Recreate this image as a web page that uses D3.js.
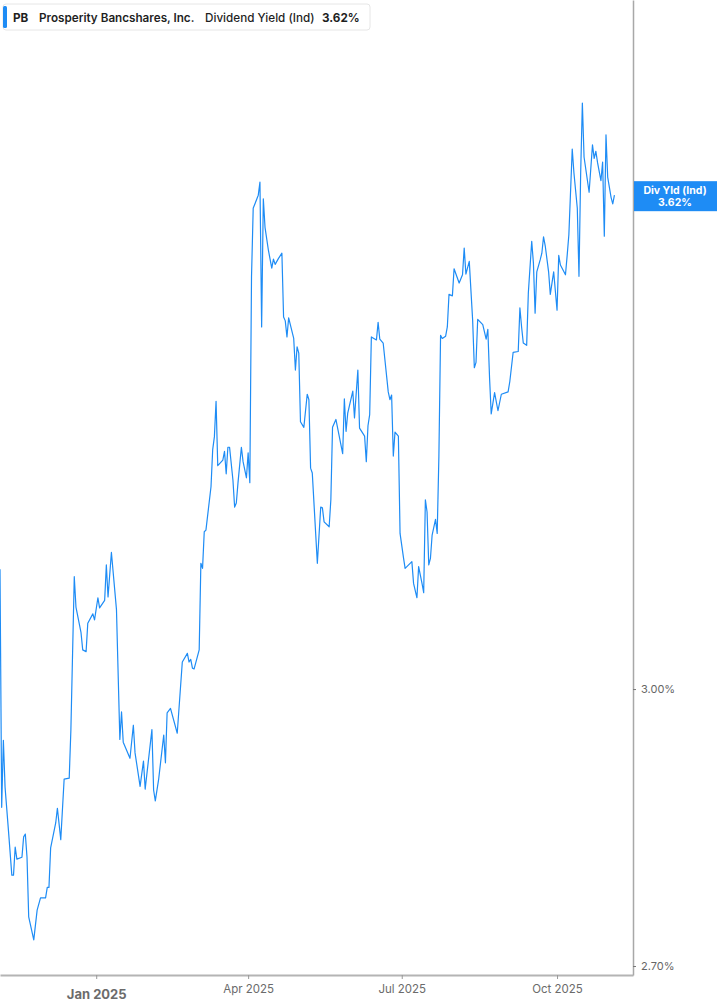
<!DOCTYPE html>
<html>
<head>
<meta charset="utf-8">
<script src="https://cdn.jsdelivr.net/npm/d3@7"></script>
<style>
    html, body { margin: 0; padding: 0; background: #fff; }
    svg { display: block; }
</style>
</head>
<body>
<div id="chart"></div>
<script>
// PB dividend yield (indicated), %
const dates = [
    "2024-11-05","2024-11-06","2024-11-07","2024-11-08","2024-11-10","2024-11-11","2024-11-12","2024-11-13","2024-11-14","2024-11-15",
    "2024-11-18","2024-11-19","2024-11-20","2024-11-21","2024-11-22","2024-11-25","2024-11-27","2024-11-29","2024-12-02","2024-12-03",
    "2024-12-04","2024-12-05","2024-12-08","2024-12-09","2024-12-11","2024-12-13","2024-12-16","2024-12-17","2024-12-19","2024-12-20",
    "2024-12-23","2024-12-24","2024-12-26","2024-12-27","2024-12-30","2024-12-31","2025-01-02","2025-01-03","2025-01-06","2025-01-07",
    "2025-01-08","2025-01-10","2025-01-13","2025-01-15","2025-01-16","2025-01-17","2025-01-21","2025-01-23","2025-01-24","2025-01-27",
    "2025-01-29","2025-01-30","2025-02-03","2025-02-04","2025-02-05","2025-02-07","2025-02-10","2025-02-11","2025-02-12","2025-02-14",
    "2025-02-18","2025-02-21","2025-02-24","2025-02-25","2025-02-26","2025-02-27","2025-02-28","2025-03-03","2025-03-04","2025-03-05",
    "2025-03-06","2025-03-07","2025-03-10","2025-03-11","2025-03-12","2025-03-13","2025-03-14","2025-03-17","2025-03-18","2025-03-19",
    "2025-03-20","2025-03-21","2025-03-23","2025-03-24","2025-03-25","2025-03-26","2025-03-28","2025-03-29","2025-03-31","2025-04-01",
    "2025-04-02","2025-04-03","2025-04-04","2025-04-07","2025-04-08","2025-04-09","2025-04-10","2025-04-11","2025-04-13","2025-04-15",
    "2025-04-16","2025-04-17","2025-04-19","2025-04-21","2025-04-22","2025-04-23","2025-04-24","2025-04-25","2025-04-28","2025-04-29",
    "2025-04-30","2025-05-01","2025-05-02","2025-05-04","2025-05-06","2025-05-07","2025-05-08","2025-05-09","2025-05-12","2025-05-14",
    "2025-05-15","2025-05-16","2025-05-19","2025-05-20","2025-05-21","2025-05-23","2025-05-27","2025-05-28","2025-05-29","2025-05-30",
    "2025-06-02","2025-06-03","2025-06-05","2025-06-06","2025-06-09","2025-06-10","2025-06-11","2025-06-12","2025-06-13","2025-06-16",
    "2025-06-17","2025-06-18","2025-06-20","2025-06-23","2025-06-24","2025-06-25","2025-06-26","2025-06-27","2025-06-29","2025-06-30",
    "2025-07-02","2025-07-03","2025-07-07","2025-07-08","2025-07-10","2025-07-11","2025-07-13","2025-07-14","2025-07-15","2025-07-16",
    "2025-07-17","2025-07-18","2025-07-19","2025-07-21","2025-07-22","2025-07-23","2025-07-24","2025-07-25","2025-07-27","2025-07-28",
    "2025-07-29","2025-07-31","2025-08-01","2025-08-04","2025-08-06","2025-08-07","2025-08-08","2025-08-10","2025-08-12","2025-08-13",
    "2025-08-14","2025-08-15","2025-08-18","2025-08-20","2025-08-21","2025-08-22","2025-08-23","2025-08-25","2025-08-27","2025-08-29",
    "2025-09-02","2025-09-03","2025-09-05","2025-09-08","2025-09-09","2025-09-10","2025-09-11","2025-09-13","2025-09-14","2025-09-16",
    "2025-09-17","2025-09-18","2025-09-19","2025-09-21","2025-09-22","2025-09-23","2025-09-24","2025-09-26","2025-09-27","2025-09-28",
    "2025-09-29","2025-10-01","2025-10-02","2025-10-03","2025-10-06","2025-10-07","2025-10-08","2025-10-10","2025-10-11","2025-10-13",
    "2025-10-14","2025-10-15","2025-10-16","2025-10-17","2025-10-20","2025-10-22","2025-10-23","2025-10-24","2025-10-25","2025-10-27",
    "2025-10-28","2025-10-29","2025-10-30","2025-10-31","2025-11-02","2025-11-03","2025-11-04"
];

const yields = [
    3.140,2.868,2.942,2.890,2.843,2.819,2.795,2.795,2.825,2.812,
    2.814,2.836,2.839,2.814,2.751,2.727,2.758,2.771,2.771,2.782,
    2.782,2.824,2.851,2.867,2.833,2.899,2.900,2.954,3.131,3.095,
    3.065,3.045,3.043,3.076,3.087,3.080,3.106,3.094,3.103,3.145,
    3.107,3.160,3.092,2.943,2.974,2.940,2.922,2.959,2.928,2.891,
    2.919,2.888,2.954,2.887,2.875,2.899,2.948,2.917,2.973,2.978,
    2.950,3.031,3.041,3.031,3.034,3.024,3.023,3.045,3.147,3.141,
    3.185,3.187,3.240,3.286,3.302,3.347,3.266,3.273,3.284,3.256,
    3.289,3.289,3.248,3.215,3.220,3.245,3.289,3.271,3.251,3.282,
    3.245,3.509,3.602,3.620,3.638,3.443,3.615,3.576,3.545,3.521,
    3.533,3.526,3.534,3.541,3.456,3.451,3.430,3.455,3.428,3.387,
    3.417,3.409,3.321,3.314,3.356,3.349,3.263,3.257,3.147,3.215,
    3.214,3.197,3.191,3.224,3.314,3.324,3.281,3.350,3.309,3.332,
    3.360,3.326,3.387,3.313,3.303,3.271,3.316,3.330,3.430,3.426,
    3.449,3.427,3.422,3.359,3.349,3.355,3.278,3.308,3.303,3.183,
    3.154,3.141,3.149,3.123,3.106,3.143,3.123,3.112,3.224,3.209,
    3.145,3.153,3.181,3.200,3.183,3.277,3.432,3.428,3.431,3.443,
    3.486,3.484,3.520,3.501,3.512,3.548,3.513,3.530,3.452,3.390,
    3.397,3.453,3.446,3.427,3.440,3.378,3.331,3.358,3.335,3.356,
    3.359,3.372,3.410,3.411,3.468,3.443,3.422,3.419,3.488,3.557,
    3.528,3.461,3.516,3.532,3.541,3.563,3.551,3.516,3.486,3.501,
    3.516,3.465,3.538,3.525,3.512,3.538,3.566,3.684,3.651,3.602,
    3.510,3.651,3.749,3.673,3.624,3.690,3.671,3.681,3.665,3.640,
    3.666,3.564,3.704,3.645,3.617,3.608,3.620
];

const xTickDates = ["2025-01-01", "2025-04-01", "2025-07-01", "2025-10-01"];
const yTickValues = [2.7, 3.0];
const xDomain = ["2024-11-05", "2025-11-15"];
const yDomain = [2.6908, 3.899];

const ticker = "PB";
const company = "Prosperity Bancshares, Inc.";
const metric = "Dividend Yield (Ind)";
const tagTitle = "Div Yld (Ind)";

const blue = "#1e8cf5";

class YieldChart {
    constructor(_parentElement, _dates, _values) {
        this.parentElement = _parentElement;
        const parse = d3.timeParse("%Y-%m-%d");
        this.data = _dates.map((d, i) => ({ date: parse(d), value: _values[i] }));
        this.initVis();
    }

    initVis() {
        const vis = this;
        const parse = d3.timeParse("%Y-%m-%d");

        vis.totalWidth = 717;
        vis.totalHeight = 1005;
        vis.margin = { top: 0, right: 84, bottom: 30, left: 0 };
        vis.width = vis.totalWidth - vis.margin.left - vis.margin.right;
        vis.height = vis.totalHeight - vis.margin.top - vis.margin.bottom;

        vis.svg = d3.select(vis.parentElement).append("svg")
            .attr("width", vis.totalWidth)
            .attr("height", vis.totalHeight)
            .style("font-family", "Inter, 'Noto Sans', sans-serif");

        vis.g = vis.svg.append("g")
            .attr("transform", `translate(${vis.margin.left},${vis.margin.top})`);

        vis.x = d3.scaleTime()
            .domain(xDomain.map(parse))
            .range([0, vis.width]);

        vis.y = d3.scaleLog()
            .domain(yDomain)
            .range([vis.height, 0]);

        vis.g.append("clipPath")
            .attr("id", "plot-clip")
            .append("rect")
            .attr("width", vis.width)
            .attr("height", vis.height);

        // bottom axis
        vis.xAxis = d3.axisBottom(vis.x)
            .tickValues(xTickDates.map(parse))
            .tickSize(4)
            .tickSizeOuter(0)
            .tickPadding(6)
            .tickFormat(d3.timeFormat("%b %Y"));

        const xg = vis.g.append("g")
            .attr("class", "x axis")
            .attr("transform", `translate(0,${vis.height})`)
            .call(vis.xAxis);
        xg.select(".domain").attr("stroke", "#b4b4b4").attr("stroke-width", 2);
        xg.selectAll(".tick line").attr("stroke", "#999");
        xg.selectAll(".tick text")
            .attr("fill", "#6b6b6b")
            .style("font-size", "11.5px")
            .style("font-family", "Inter, sans-serif");
        xg.selectAll(".tick text")
            .filter(d => d.getMonth() === 0)
            .attr("dy", "1.05em")
            .style("font-size", "13px")
            .style("font-weight", "700");

        // right axis
        vis.yAxis = d3.axisRight(vis.y)
            .tickValues(yTickValues)
            .tickSize(3)
            .tickSizeOuter(0)
            .tickPadding(5)
            .tickFormat(d => d3.format(".2f")(d) + "%");

        const yg = vis.g.append("g")
            .attr("class", "y axis")
            .attr("transform", `translate(${vis.width},0)`)
            .call(vis.yAxis);
        yg.select(".domain").attr("stroke", "#a8a8a8").attr("stroke-width", 1.5);
        yg.selectAll(".tick line").attr("stroke", "#777");
        yg.selectAll(".tick text")
            .attr("fill", "#666")
            .style("font-size", "11px")
            .style("font-family", "Inter, sans-serif");

        vis.updateVis();
    }

    updateVis() {
        const vis = this;

        const line = d3.line()
            .x(d => vis.x(d.date))
            .y(d => vis.y(d.value));

        vis.g.append("path")
            .datum(vis.data)
            .attr("clip-path", "url(#plot-clip)")
            .attr("fill", "none")
            .attr("stroke", blue)
            .attr("stroke-width", 1.2)
            .attr("stroke-linejoin", "round")
            .attr("d", line);

        const last = vis.data[vis.data.length - 1];
        const lastY = vis.y(last.value);
        const fmt = d => d3.format(".2f")(d) + "%";

        // value tag on the right axis
        const tag = vis.g.append("g")
            .attr("transform", `translate(${vis.width + 1},${lastY})`);
        tag.append("rect")
            .attr("x", 0)
            .attr("y", -14)
            .attr("width", vis.margin.right)
            .attr("height", 30)
            .attr("fill", blue);
        tag.append("text")
            .attr("x", 41)
            .attr("y", -1)
            .attr("text-anchor", "middle")
            .attr("fill", "#fff")
            .style("font-size", "10.5px")
            .style("font-weight", "700")
            .text(tagTitle);
        tag.append("text")
            .attr("x", 41)
            .attr("y", 11)
            .attr("text-anchor", "middle")
            .attr("fill", "#fff")
            .style("font-size", "10.5px")
            .style("font-weight", "700")
            .text(fmt(last.value));

        // legend box
        const legend = vis.svg.append("g").attr("transform", "translate(3,4)");
        legend.append("rect")
            .attr("width", 367)
            .attr("height", 26)
            .attr("rx", 3)
            .attr("fill", "#fff")
            .attr("stroke", "#e6e6e6");
        legend.append("rect")
            .attr("x", 0)
            .attr("y", 2)
            .attr("width", 4)
            .attr("height", 22)
            .attr("rx", 1.5)
            .attr("fill", blue);

        const items = [
            { text: ticker, x: 10, weight: 700 },
            { text: company, x: 36, weight: 600 },
            { text: metric, x: 202, weight: 500 },
            { text: fmt(last.value), x: 319, weight: 700 }
        ];
        legend.selectAll(".legend-text")
            .data(items)
            .enter().append("text")
            .attr("class", "legend-text")
            .attr("x", d => d.x)
            .attr("y", 17.5)
            .attr("fill", "#1f1f1f")
            .style("font-size", "11.7px")
            .style("font-weight", d => d.weight)
            .text(d => d.text);
    }
}

new YieldChart("#chart", dates, yields);
</script>
</body>
</html>
